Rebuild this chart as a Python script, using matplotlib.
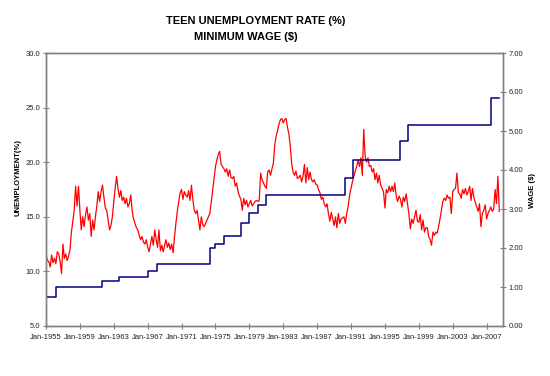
import pandas as pd
import matplotlib
matplotlib.use('Agg')
import matplotlib.pyplot as plt
import matplotlib.dates as mdates

plt.rcParams['font.family'] = ['Liberation Sans', 'DejaVu Sans']

# teen unemployment rate (%), read every two months (Jan, Mar, May, Jul, Sep, Nov)
unemp_by_year = {
    1955: [11.6, 11.0, 10.9, 10.4, 11.5, 10.8],
    1956: [11.2, 10.7, 11.8, 11.6, 10.9, 9.8],
    1957: [12.5, 11.2, 11.6, 11.0, 11.4, 12.0],
    1958: [13.6, 14.6, 15.6, 17.8, 16.0, 17.8],
    1959: [15.6, 13.8, 15.0, 14.1, 15.2, 15.9],
    1960: [14.7, 15.3, 13.2, 14.7, 13.8, 15.0],
    1961: [16.0, 17.3, 16.4, 17.3, 17.9, 16.8],
    1962: [15.8, 15.6, 14.7, 13.8, 14.2, 15.0],
    1963: [16.4, 17.6, 18.7, 17.6, 16.8, 17.4],
    1964: [16.5, 16.8, 16.2, 16.7, 15.9, 16.2],
    1965: [17.0, 15.6, 14.8, 14.4, 14.0, 13.8],
    1966: [13.3, 12.9, 13.2, 12.7, 12.5, 12.9],
    1967: [12.2, 11.8, 12.5, 13.2, 12.4, 13.8],
    1968: [12.9, 12.2, 13.8, 11.9, 12.4, 11.8],
    1969: [12.4, 12.9, 12.2, 12.6, 12.0, 12.5],
    1970: [11.7, 13.1, 14.4, 15.5, 16.4, 17.2],
    1971: [17.5, 16.6, 17.3, 17.0, 16.8, 17.4],
    1972: [16.5, 17.9, 16.6, 15.6, 15.3, 15.6],
    1973: [14.7, 13.8, 15.0, 14.3, 14.1, 14.4],
    1974: [14.7, 15.0, 15.3, 16.3, 17.4, 18.4],
    1975: [19.6, 20.2, 20.7, 21.0, 19.8, 19.6],
    1976: [19.4, 19.1, 19.4, 18.7, 19.3, 18.6],
    1977: [18.5, 18.7, 17.8, 18.1, 17.3, 16.9],
    1978: [16.6, 15.6, 16.7, 16.1, 16.5, 15.9],
    1979: [16.2, 16.5, 16.0, 16.2, 16.4, 16.5],
    1980: [16.4, 16.5, 19.0, 18.4, 18.1, 17.8],
    1981: [17.6, 19.1, 19.3, 18.8, 19.4, 19.9],
    1982: [21.6, 22.4, 22.9, 23.5, 23.9, 24.0],
    1983: [23.6, 23.9, 24.0, 23.2, 22.6, 21.4],
    1984: [19.8, 19.1, 18.8, 19.2, 18.5, 18.6],
    1985: [18.8, 18.2, 18.7, 19.8, 18.1, 19.5],
    1986: [18.4, 19.1, 18.4, 18.2, 18.4, 18.0],
    1987: [17.9, 17.5, 17.2, 16.6, 16.8, 16.2],
    1988: [15.9, 16.2, 15.3, 14.6, 15.4, 14.8],
    1989: [14.2, 15.0, 14.0, 15.3, 14.4, 14.8],
    1990: [14.9, 15.0, 14.4, 15.3, 16.0, 17.0],
    1991: [17.6, 18.2, 18.7, 19.2, 19.6, 20.2],
    1992: [19.6, 20.4, 18.8, 23.0, 20.5, 20.0],
    1993: [20.4, 19.6, 19.7, 19.1, 19.4, 18.4],
    1994: [19.0, 18.1, 18.8, 17.9, 17.6, 17.3],
    1995: [15.8, 17.5, 17.2, 17.8, 17.3, 17.8],
    1996: [17.3, 18.1, 16.9, 16.4, 16.9, 16.6],
    1997: [15.9, 16.8, 16.4, 17.1, 16.2, 15.2],
    1998: [13.9, 14.8, 14.4, 15.0, 15.6, 14.6],
    1999: [14.5, 15.2, 13.8, 14.7, 13.6, 14.0],
    2000: [14.0, 13.2, 12.9, 12.4, 13.6, 13.3],
    2001: [13.6, 13.5, 14.1, 14.8, 15.6, 16.4],
    2002: [16.7, 16.5, 17.0, 16.7, 16.8, 15.3],
    2003: [17.3, 17.5, 17.6, 19.0, 17.2, 17.1],
    2004: [16.7, 17.5, 17.1, 17.6, 17.0, 17.3],
    2005: [17.8, 16.5, 17.6, 16.8, 16.3, 15.9],
    2006: [15.5, 16.2, 14.1, 15.3, 15.6, 16.1],
    2007: [14.8, 15.3, 15.6, 15.9, 15.5, 15.7],
    2008: [17.5, 16.2, 18.7, 15.5],
}

# federal minimum wage ($) and the month each rate started
wage_dates = ['1955-01-01', '1956-03-01', '1961-09-01', '1963-09-01', '1967-02-01',
              '1968-02-01', '1974-05-01', '1975-01-01', '1976-01-01', '1978-01-01',
              '1979-01-01', '1980-01-01', '1981-01-01', '1990-04-01', '1991-04-01',
              '1996-10-01', '1997-09-01', '2007-07-01', '2008-07-01']
wage_values = [0.75, 1.00, 1.15, 1.25, 1.40, 1.60, 2.00, 2.10, 2.30, 2.65,
               2.90, 3.10, 3.35, 3.80, 4.25, 4.75, 5.15, 5.85, 5.85]

tick_years = list(range(1955, 2008, 4))

unemp = [v for y in sorted(unemp_by_year) for v in unemp_by_year[y]]
unemp_dates = pd.date_range('1955-01-01', periods=len(unemp), freq='2MS')
wage_dates = pd.to_datetime(wage_dates)

fig = plt.figure(figsize=(5.5, 3.76), dpi=100)
ax = fig.add_axes([46 / 550, 1 - 326 / 376, (503.3 - 46) / 550, (326 - 53) / 376])
ax2 = ax.twinx()

ax.plot(unemp_dates, unemp, color='#ff0000', lw=0.9)
ax2.step(wage_dates, wage_values, where='post', color='#000080', lw=1.1)

ax.set_xlim(pd.Timestamp('1955-01-01'), pd.Timestamp('2008-12-20'))
ax.set_ylim(5, 30)
ax2.set_ylim(0, 7)
ax.set_yticks(range(5, 31, 5))
ax.set_yticklabels([f'{v:.1f}' for v in range(5, 31, 5)])
ax2.set_yticks(range(0, 8))
ax2.set_yticklabels([f'{v:.2f}' for v in range(0, 8)])
ax.set_xticks([pd.Timestamp(f'{y}-01-01') for y in tick_years])
ax.xaxis.set_major_formatter(mdates.DateFormatter('%b-%Y'))

for a in (ax, ax2):
    for s in a.spines.values():
        s.set_color('#808080')
        s.set_linewidth(1.0)
    a.tick_params(direction='inout', length=4, width=0.8, color='#808080',
                  labelsize=5.5, labelcolor='#222222', pad=2)
ax.tick_params(axis='x', pad=4)

fig.text(256 / 550, 1 - 21 / 376, 'TEEN UNEMPLOYMENT RATE (%)', ha='center', va='center',
         fontsize=8, fontweight='bold')
fig.text(246 / 550, 1 - 37.5 / 376, 'MINIMUM WAGE ($)', ha='center', va='center',
         fontsize=8, fontweight='bold')
fig.text(18 / 550, 1 - 177 / 376, 'UNEMPLOYMENT(%)', rotation=90, ha='center', va='center',
         fontsize=5.5, fontweight='bold')
fig.text(532 / 550, 1 - 190 / 376, 'WAGE ($)', rotation=90, ha='center', va='center',
         fontsize=5.5, fontweight='bold')

plt.savefig('out.png', dpi=100)
